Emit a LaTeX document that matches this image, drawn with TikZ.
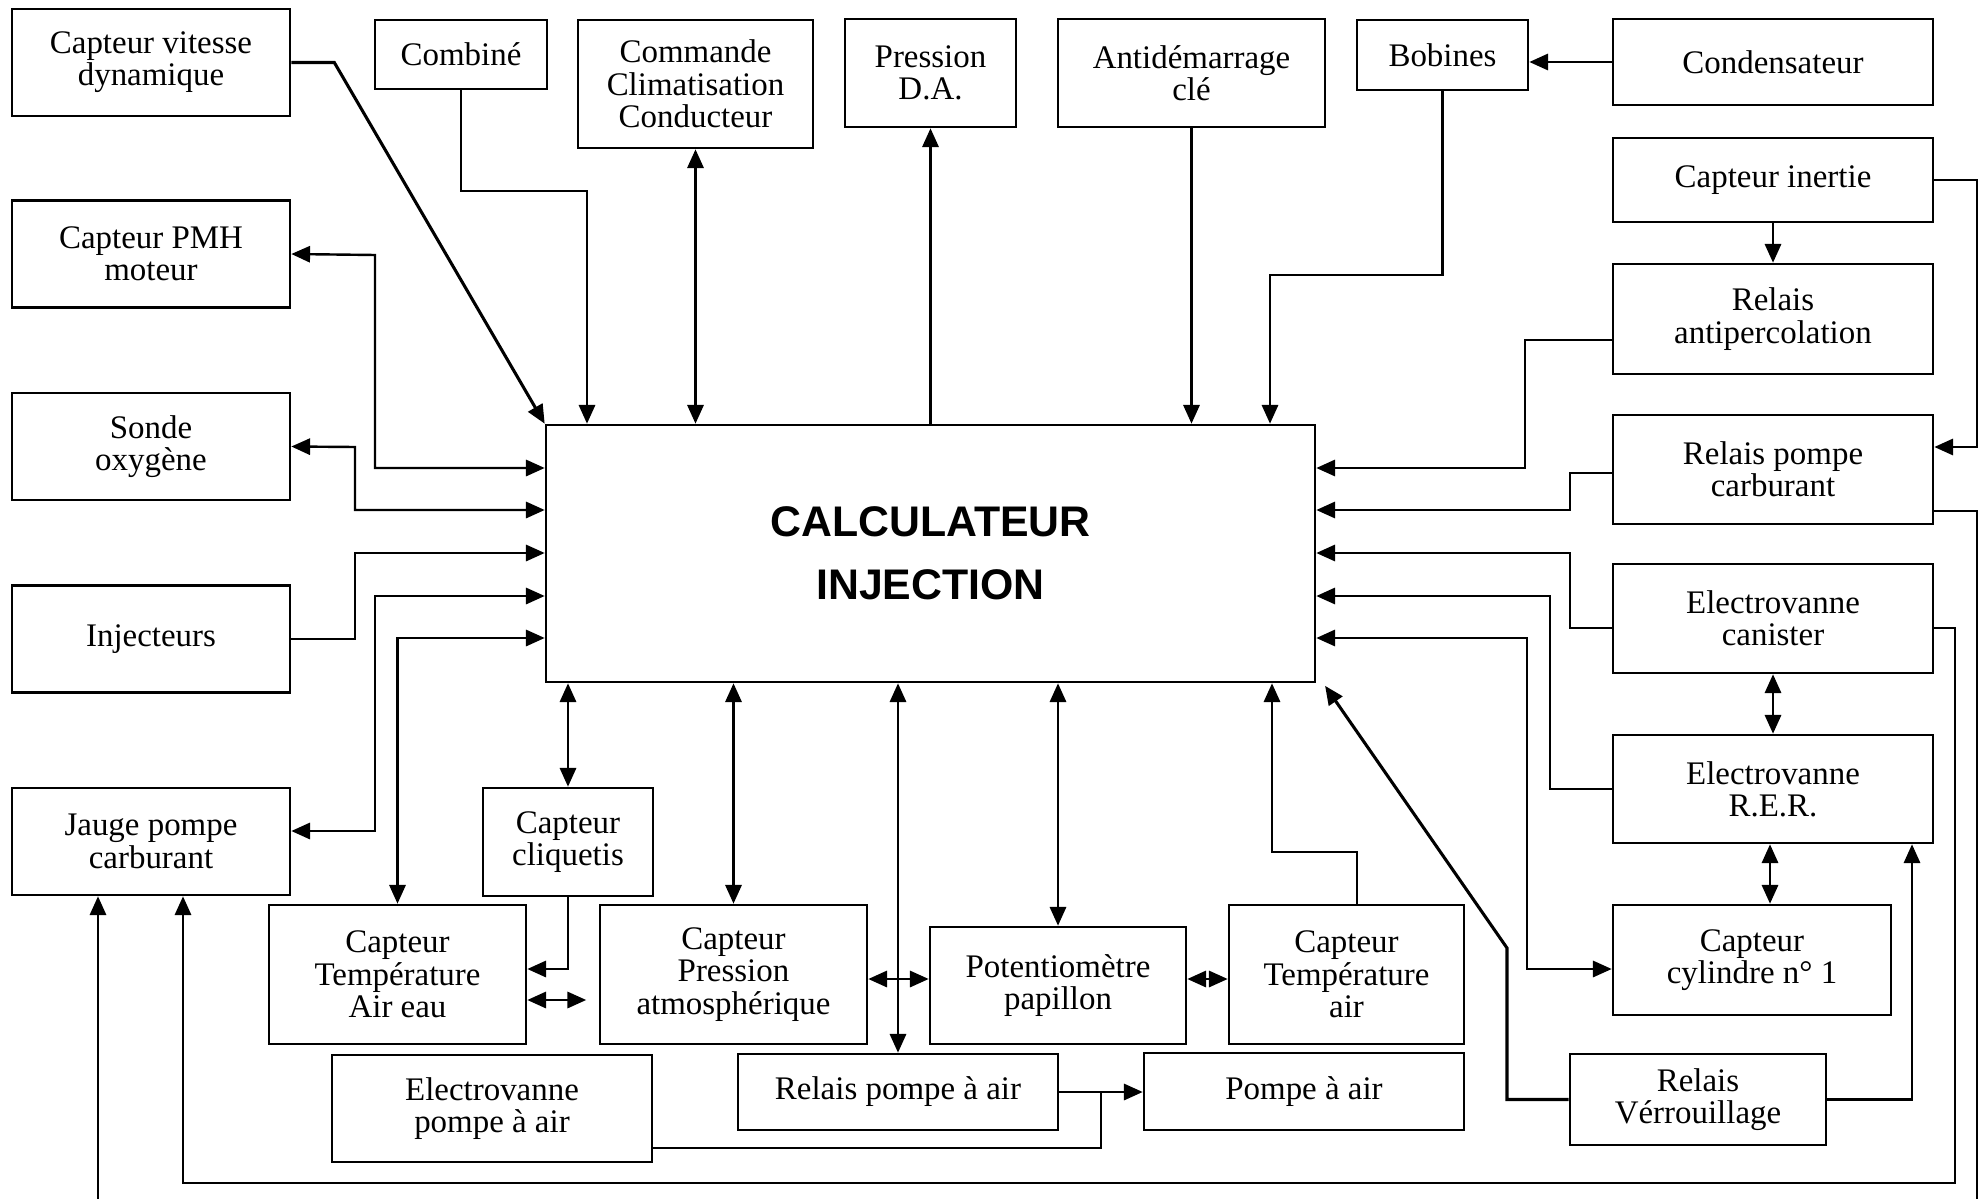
\documentclass[tikz,border=0pt]{standalone}
\usepackage{fontspec}
\setmainfont{Liberation Serif}
\newfontfamily\calcfont{Liberation Sans}
\usetikzlibrary{arrows.meta}

\begin{document}
\begin{tikzpicture}[
  x=0.016cm, y=-0.016cm,
  pointe/.tip={Triangle[length=0.3cm, width=0.26cm]},
  bloc/.style={
    draw, line width=1.2pt,
    inner sep=0pt, align=center,
    font=\fontsize{15}{14.7}\selectfont
  },
  taille/.style 2 args={minimum width=#1*0.016cm, minimum height=#2*0.016cm},
  liaison/.style={line width=1.1pt},
  fleche/.style={liaison, -pointe},
  fleches/.style={liaison, pointe-pointe}
]
\useasboundingbox (0,0) rectangle (1985,1199);

% Bloc central
\node[bloc, taille={769}{257}, font={\calcfont\bfseries\fontsize{19.5}{28.7}\selectfont}]
  (calc) at (930.5,553.5) {CALCULATEUR\\INJECTION};

% Rangée du haut
\node[bloc, taille={278}{107}] (cv)    at (151,62.5)    {Capteur vitesse\\dynamique};
\node[bloc, taille={172}{69}]  (combi) at (461,54.5)    {Combiné};
\node[bloc, taille={235}{128}] (clim)  at (695.5,84)    {Commande\\Climatisation\\Conducteur};
\node[bloc, taille={171}{108}] (pda)   at (930.5,73)    {Pression\\D.A.};
\node[bloc, taille={267}{108}] (antid) at (1191.5,73)   {Antidémarrage\\clé};
\node[bloc, taille={171}{70}]  (bob)   at (1442.5,55)   {Bobines};

% Colonne de gauche
\foreach \nom/\y/\texte in {pmh/254/{Capteur PMH\\moteur},
                            sonde/446.5/{Sonde\\oxygène},
                            inj/639/{Injecteurs},
                            jauge/841.5/{Jauge pompe\\carburant}} {
  \node[bloc, taille={278}{107}] (\nom) at (151,\y) {\texte};
}

% Colonne de droite
\foreach \nom/\y/\h/\texte in {cond/62/86/{Condensateur},
                               inert/180/84/{Capteur inertie},
                               antip/319/110/{Relais\\antipercolation},
                               rpc/469.5/109/{Relais pompe\\carburant},
                               can/618.5/109/{Electrovanne\\canister},
                               rer/789/108/{Electrovanne\\R.E.R.}} {
  \node[bloc, taille={320}{\h}] (\nom) at (1773,\y) {\texte};
}
\node[bloc, taille={278}{110}] (cyl)  at (1752,960)     {Capteur\\cylindre n° 1};
\node[bloc, taille={256}{91}]  (verr) at (1698,1099.5)  {Relais\\Vérrouillage};

% Rangée du bas
\node[bloc, taille={170}{108}] (cliq) at (568,842)      {Capteur\\cliquetis};
\node[bloc, taille={257}{139}] (ctae) at (397.5,974.5)  {Capteur\\Température\\Air eau};
\node[bloc, taille={267}{139}] (cpa)  at (733.5,974.5)  {Capteur\\Pression\\atmosphérique};
\node[bloc, taille={256}{117}] (pot)  at (1058,985.5)   {Potentiomètre\\papillon};
\node[bloc, taille={235}{139}] (cta)  at (1346.5,974.5) {Capteur\\Température\\air};
\node[bloc, taille={320}{107}] (epa)  at (492,1108.5)   {Electrovanne\\pompe à air};
\node[bloc, taille={320}{76}]  (rpa)  at (898,1092)     {Relais pompe à air};
\node[bloc, taille={320}{77}]  (pair) at (1304,1091.5)  {Pompe à air};

% Liaisons du haut
\draw[fleche, line width=1.4pt] (cv.east) -- ++(43,0) -- (calc.north west);
\draw[fleche] (combi.south) |- (587,191) -- (calc.north -| 587,0);
\draw[fleches] (clim.south) -- (calc.north -| clim.south);
\draw[fleche] (calc.north -| pda.south) -- (pda.south);
\draw[fleche] (antid.south) -- (calc.north -| antid.south);
\draw[fleche] (bob.south) |- (1270,275) -- (calc.north -| 1270,0);
\draw[fleche] (cond.west) -- (bob.east |- cond.west);

% Liaisons de gauche
\draw[fleches] (calc.west |- 0,468) -| (375,255) -- (pmh.east);
\draw[fleches] (calc.west |- 0,510) -| (355,447) -- (sonde.east);
\draw[fleche] (inj.east) -| (355,553) -- (calc.west |- 0,553);
\draw[fleches] (calc.west |- 0,596) -| (375,831) -- (jauge.east |- 0,831);
\draw[fleches] (calc.west |- 0,638) -| (ctae.north);

% Liaisons de droite
\draw[fleche] (inert.south) -- (antip.north);
\draw[fleche] (inert.east) -| (1977,447) -- (rpc.east |- 0,447);
\draw[fleche] (antip.west |- 0,340) -| (1525,468) -- (calc.east |- 0,468);
\draw[fleche] (rpc.west |- 0,473) -| (1570,510) -- (calc.east |- 0,510);
\draw[fleche] (can.west |- 0,628) -| (1570,553) -- (calc.east |- 0,553);
\draw[fleche] (rer.west) -| (1550,596) -- (calc.east |- 0,596);
\draw[fleches] (calc.east |- 0,638) -| (1527,969) -- (cyl.west |- 0,969);
\draw[fleches] (can.south) -- (rer.north);
\draw[fleches] (rer.south -| 1770,0) -- (cyl.north -| 1770,0);
\draw[fleche] (verr.east) -| (rer.south -| 1912,0);
\draw[fleche, line width=1.4pt] (verr.west) -| (1507,948)
  -- ([xshift=0.14cm, yshift=-0.04cm]calc.south east);

% Retours vers la jauge
\draw[fleche] (rpc.east |- 0,511) -| (1977,1230) -| (jauge.south -| 98,0);
\draw[fleche] (can.east |- 0,628) -| (1955,1183) -| (jauge.south -| 183,0);

% Liaisons du bas
\draw[fleches] (calc.south -| cliq.north) -- (cliq.north);
\draw[fleche] (cliq.south) |- (ctae.east |- 0,969);
\draw[fleches, shorten >=0.2cm] (ctae.east |- 0,1000) -- (cpa.west |- 0,1000);
\draw[fleches] (calc.south -| cpa.north) -- (cpa.north);
\draw[fleches] (calc.south -| rpa.north) -- (rpa.north);
\draw[fleches] (cpa.east |- 0,979) -- (pot.west |- 0,979);
\draw[fleches] (calc.south -| pot.north) -- (pot.north);
\draw[fleches] (pot.east |- 0,979) -- (cta.west |- 0,979);
\draw[fleche] (cta.north -| 1357,0) |- (1272,852) -- (calc.south -| 1272,0);
\draw[fleche] (rpa.east) -- (pair.west |- rpa.east);
\draw[liaison] (epa.east |- 0,1148) -| (rpa.east -| 1101,0);
\end{tikzpicture}
\end{document}
